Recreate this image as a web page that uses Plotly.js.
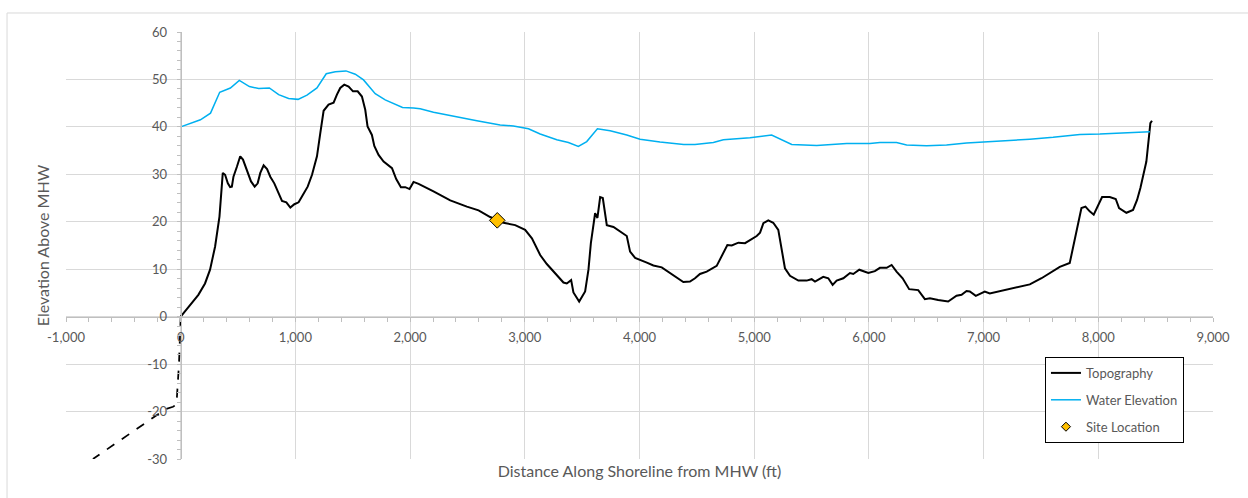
<!DOCTYPE html>
<html>
<head>
<meta charset="utf-8">
<script src="https://cdn.plot.ly/plotly-3.0.1.min.js"></script>
<style>
html,body{margin:0;padding:0;background:#fff;}
#chart{width:1248px;height:498px;}
</style>
</head>
<body>
<div id="chart"></div>
<script>
// ---- Data ----
const topoX = [0,81,154,212,256,300,338,367,387,411,431,446,460,490,519,543,578,613,645,671,694,723,753,781,816,845,883,921,956,991,1028,1066,1107,1145,1188,1217,1246,1289,1333,1362,1391,1426,1464,1502,1543,1580,1609,1629,1667,1688,1725,1769,1812,1842,1879,1920,1958,1995,2030,2074,2204,2350,2495,2597,2698,2814,2916,3003,3062,3134,3192,3265,3337,3366,3404,3424,3474,3526,3555,3576,3613,3633,3657,3680,3715,3773,3846,3889,3918,3962,4064,4121,4194,4266,4382,4440,4484,4527,4586,4673,4717,4766,4804,4862,4920,4963,5022,5051,5080,5123,5166,5210,5239,5268,5312,5385,5457,5501,5530,5602,5646,5684,5719,5777,5835,5864,5916,5995,6052,6096,6155,6198,6241,6294,6351,6430,6488,6532,6604,6691,6764,6808,6851,6880,6932,7010,7054,7170,7287,7403,7505,7592,7664,7751,7780,7809,7853,7888,7925,7960,7998,8033,8100,8152,8181,8245,8303,8338,8367,8396,8419,8442,8454,8468];
const topoY = [0,2.5,4.6,7.0,9.9,14.8,21.1,30.3,29.9,28.1,27.3,27.4,29.5,31.6,33.8,33.1,30.6,28.5,27.4,28.1,30.3,31.9,31.1,29.5,28.1,26.4,24.4,24.1,23.0,23.7,24.1,25.7,27.4,29.9,33.8,38.7,43.4,44.7,45.1,46.8,48.2,48.9,48.5,47.5,47.5,46.4,43.6,40.1,38.3,36.0,34.1,32.7,31.8,31.3,29.0,27.3,27.3,26.9,28.4,28.0,26.4,24.5,23.2,22.4,21.0,19.8,19.3,18.3,16.5,13.0,11.1,9.2,7.2,7.0,7.7,5.1,3.2,5.3,9.9,15.5,21.8,20.8,25.2,25.0,19.3,18.9,17.7,17.0,13.7,12.4,11.4,10.8,10.4,9.2,7.3,7.4,8.1,9.0,9.5,10.7,12.7,15.1,15.0,15.6,15.5,16.2,17.0,17.7,19.7,20.3,19.8,18.3,14.1,10.2,8.6,7.6,7.6,7.9,7.4,8.4,8.1,6.7,7.6,8.1,9.2,9.0,9.9,9.2,9.6,10.3,10.3,10.9,9.5,8.1,5.8,5.6,3.7,3.9,3.5,3.2,4.4,4.6,5.4,5.3,4.4,5.3,4.9,5.5,6.2,6.8,8.1,9.5,10.5,11.3,14.8,18.3,22.9,23.2,22.2,21.5,23.6,25.2,25.2,24.8,22.9,21.9,22.5,24.6,27.1,30.3,32.7,38.0,40.8,41.3];

const offshoreX = [0,-15,-37,-67,-133,-285,-575,-765];
const offshoreY = [0,-10,-18.5,-19,-19.5,-22,-26.8,-30];

const waterX = [0,172,260,340,433,511,599,680,773,854,941,1023,1101,1188,1269,1348,1441,1522,1594,1696,1783,1934,2030,2088,2204,2378,2582,2785,2901,3032,3134,3279,3380,3467,3540,3633,3744,3889,4005,4179,4385,4484,4644,4731,4818,4963,5152,5327,5545,5806,6009,6096,6241,6329,6503,6677,6851,6996,7200,7403,7606,7780,7839,8013,8274,8450];
const waterY = [40.0,41.5,42.9,47.3,48.2,49.8,48.5,48.1,48.2,46.8,46.0,45.8,46.7,48.2,51.2,51.6,51.8,51.1,49.9,47.0,45.7,44.1,44.0,43.8,43.1,42.2,41.3,40.4,40.2,39.6,38.5,37.3,36.7,35.9,36.9,39.6,39.2,38.3,37.4,36.8,36.3,36.3,36.7,37.3,37.5,37.7,38.3,36.3,36.1,36.5,36.5,36.7,36.7,36.2,36.0,36.2,36.6,36.8,37.0,37.4,37.8,38.2,38.4,38.5,38.8,39.0];

const siteX = [2760];
const siteY = [20.3];

const xTickVals = [-1000,0,1000,2000,3000,4000,5000,6000,7000,8000,9000];
const xTickLabels = ["-1,000","0","1,000","2,000","3,000","4,000","5,000","6,000","7,000","8,000","9,000"];
const yTickVals = [-30,-20,-10,0,10,20,30,40,50,60];
const yTickLabels = ["-30","-20","-10","0","10","20","30","40","50","60"];

const seriesNames = ["Topography","Water Elevation","Site Location"];

// ---- Chart ----
const FONT = "Lato, 'Open Sans', sans-serif";
const GRAY = "#595959";
const GRID = "#d9d9d9";
const AXIS = "#bfbfbf";

const traces = [
  {x: topoX, y: topoY, mode: "lines", name: seriesNames[0], legendgroup: "a",
   line: {color: "#000000", width: 2}},
  {x: offshoreX, y: offshoreY, mode: "lines", showlegend: false, legendgroup: "a",
   line: {color: "#000000", width: 1.75, dash: "dash"}},
  {x: waterX, y: waterY, mode: "lines", name: seriesNames[1], legendgroup: "b",
   line: {color: "#00B0F0", width: 1.5}},
  {x: siteX, y: siteY, mode: "markers", name: seriesNames[2], legendgroup: "c", showlegend: false,
   marker: {symbol: "diamond", size: 12, color: "#FFC000", line: {color: "#000000", width: 1}}},
  // legend-only entry, smaller symbol as in the reference legend
  {x: [null], y: [null], mode: "markers", name: seriesNames[2], legendgroup: "c",
   marker: {symbol: "diamond", size: 7, color: "#FFC000", line: {color: "#000000", width: 1}}}
];

const layout = {
  width: 1248, height: 498,
  margin: {l: 66, r: 35, t: 32, b: 39},
  paper_bgcolor: "#ffffff", plot_bgcolor: "#ffffff",
  font: {family: FONT, size: 13, color: GRAY},
  showlegend: true,
  legend: {
    x: 0.8535, y: 0.239, xanchor: "left", yanchor: "top",
    bgcolor: "#ffffff", bordercolor: "#000000", borderwidth: 1,
    font: {family: FONT, size: 13, color: GRAY},
    traceorder: "grouped", tracegroupgap: 7
  },
  xaxis: {
    range: [-1000, 9000], anchor: "free", position: 1/3,
    tickmode: "array", tickvals: xTickVals, ticktext: xTickLabels,
    ticks: "outside", ticklen: 4, tickcolor: AXIS, ticklabelstandoff: 5,
    showline: true, linecolor: AXIS, linewidth: 1,
    showgrid: true, gridcolor: GRID, gridwidth: 1, zeroline: false,
    minor: {tickmode: "linear", tick0: 0, dtick: 200, ticks: "outside", ticklen: 4, tickcolor: AXIS, showgrid: false},
    tickfont: {family: FONT, size: 13, color: GRAY},
    title: {text: "Distance Along Shoreline from MHW (ft)", font: {family: FONT, size: 16, color: GRAY}, standoff: 121}
  },
  yaxis: {
    range: [-30, 60], anchor: "free", position: 0.1,
    tickmode: "array", tickvals: yTickVals, ticktext: yTickLabels,
    ticks: "outside", ticklen: 4, tickcolor: AXIS, ticklabelstandoff: 7,
    showline: true, linecolor: AXIS, linewidth: 1,
    showgrid: true, gridcolor: GRID, gridwidth: 1, zeroline: false,
    minor: {tickmode: "linear", tick0: 0, dtick: 2, ticks: "outside", ticklen: 4, tickcolor: AXIS, showgrid: false},
    tickfont: {family: FONT, size: 13, color: GRAY},
    title: {text: "Elevation Above MHW", font: {family: FONT, size: 16, color: GRAY}, standoff: 92}
  },
  shapes: [
    {type: "rect", xref: "paper", yref: "paper", x0: -0.0514, x1: 1.2, y0: -0.3, y1: 1.0445,
     line: {color: GRID, width: 1}, fillcolor: "rgba(0,0,0,0)", layer: "below"}
  ]
};

Plotly.newPlot("chart", traces, layout, {displayModeBar: false, staticPlot: true});
</script>
</body>
</html>
